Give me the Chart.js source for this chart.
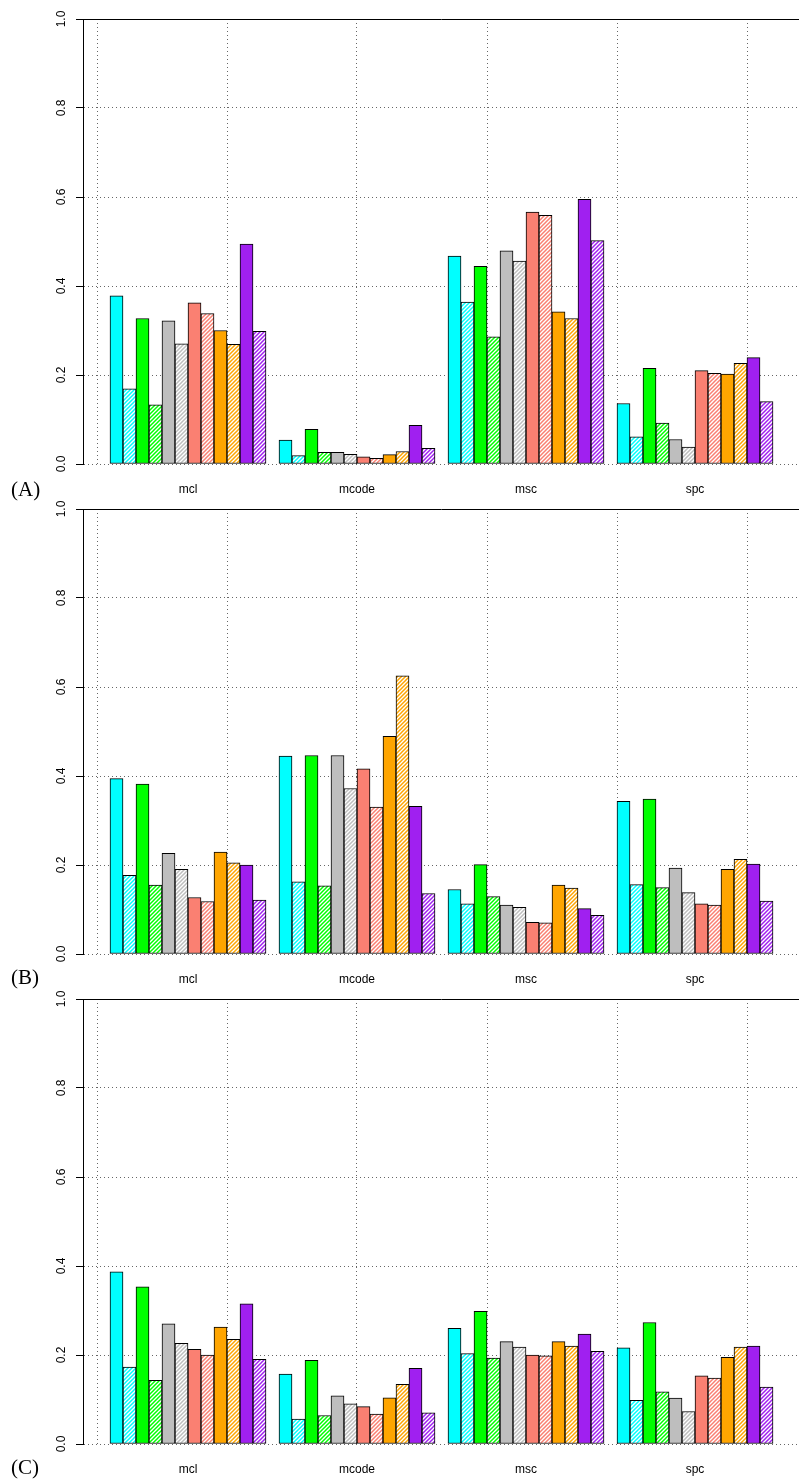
<!DOCTYPE html>
<html lang="en">
<head>
<meta charset="UTF-8">
<title>Grouped bars (A) (B) (C)</title>
<script src="https://cdn.jsdelivr.net/npm/chart.js"></script>
<style>
  body { margin: 0; background: #fff; }
  #page { position: relative; width: 799px; height: 1479px; overflow: hidden; }
  .panel { position: absolute; left: 0; width: 799px; }
  .tag { position: absolute; left: 11px; font-family: "Liberation Serif", "DejaVu Serif", serif; font-size: 21px; line-height: 24px; color: #000; }
</style>
</head>
<body>
<div id="page">
  <div class="panel" style="top:0px;height:510px"><canvas id="chartA" width="799" height="510"></canvas></div>
  <div class="panel" style="top:490px;height:510px"><canvas id="chartB" width="799" height="510"></canvas></div>
  <div class="panel" style="top:980px;height:499px"><canvas id="chartC" width="799" height="499"></canvas></div>
  <div class="tag" style="top:477px">(A)</div>
  <div class="tag" style="top:965px">(B)</div>
  <div class="tag" style="top:1455px">(C)</div>
</div>

<script>
// groups on the x axis
const groups = ['mcl', 'mcode', 'msc', 'spc'];
// one colour per method, each drawn solid then hatched
const colors = ['#00FFFF', '#00FF00', '#BEBEBE', '#FA8072', '#FFA500', '#A020F0'];
const yTicks = [0, 0.2, 0.4, 0.6, 0.8, 1.0];

// panel (A)
const aMcl   = [0.378, 0.169, 0.327, 0.133, 0.322, 0.270, 0.362, 0.338, 0.300, 0.269, 0.494, 0.298];
const aMcode = [0.054, 0.019, 0.078, 0.026, 0.026, 0.022, 0.016, 0.013, 0.021, 0.028, 0.087, 0.035];
const aMsc   = [0.467, 0.364, 0.444, 0.286, 0.479, 0.456, 0.566, 0.559, 0.342, 0.327, 0.595, 0.502];
const aSpc   = [0.136, 0.061, 0.215, 0.092, 0.055, 0.038, 0.210, 0.204, 0.202, 0.226, 0.239, 0.140];

// panel (B)
const bMcl   = [0.394, 0.177, 0.382, 0.155, 0.226, 0.190, 0.127, 0.118, 0.229, 0.205, 0.200, 0.121];
const bMcode = [0.445, 0.162, 0.446, 0.153, 0.446, 0.372, 0.416, 0.330, 0.489, 0.625, 0.332, 0.136];
const bMsc   = [0.145, 0.113, 0.201, 0.129, 0.110, 0.105, 0.071, 0.070, 0.155, 0.148, 0.102, 0.087];
const bSpc   = [0.343, 0.156, 0.348, 0.149, 0.193, 0.138, 0.113, 0.110, 0.190, 0.213, 0.202, 0.119];

// panel (C)
const cMcl   = [0.387, 0.173, 0.353, 0.143, 0.270, 0.226, 0.213, 0.200, 0.263, 0.235, 0.315, 0.190];
const cMcode = [0.157, 0.056, 0.188, 0.064, 0.108, 0.090, 0.084, 0.067, 0.104, 0.134, 0.170, 0.070];
const cMsc   = [0.260, 0.203, 0.298, 0.193, 0.230, 0.218, 0.200, 0.198, 0.230, 0.220, 0.247, 0.208];
const cSpc   = [0.216, 0.098, 0.273, 0.117, 0.103, 0.073, 0.153, 0.148, 0.195, 0.218, 0.220, 0.128];

// diagonal hatch on white
function hatch(color) {
    const c = document.createElement('canvas');
    c.width = 4; c.height = 4;
    const g = c.getContext('2d');
    g.fillStyle = '#fff';
    g.fillRect(0, 0, 4, 4);
    g.strokeStyle = color;
    g.lineWidth = 1.5;
    g.beginPath();
    g.moveTo(-1, 5); g.lineTo(5, -1);
    g.moveTo(-1, 1); g.lineTo(1, -1);
    g.moveTo(3, 5); g.lineTo(5, 3);
    g.stroke();
    return g.createPattern(c, 'repeat');
}

const fills = [];
colors.forEach(col => { fills.push(col); fills.push(hatch(col)); });

// bar layout like R barplot(beside=TRUE): 12 bars per group, one empty slot between groups
const perGroup = 12;
const slot = perGroup + 1;
const xMin = -14 / 13;
const xMax = 54;

function makePanel(id, series, canvasHeight) {
    const points = [];
    const bg = [];
    series.forEach((vals, g) => {
        vals.forEach((v, i) => {
            points.push({ x: 1.5 + slot * g + i, y: v });
            bg.push(fills[i]);
        });
    });
    const groupCenters = groups.map((_, g) => 1 + slot * g + perGroup / 2);

    new Chart(document.getElementById(id).getContext('2d'), {
        type: 'bar',
        data: {
            datasets: [{
                data: points,
                backgroundColor: bg,
                borderColor: '#000',
                borderWidth: 1,
                borderSkipped: false,
                barPercentage: 1.0,
                categoryPercentage: 1.0,
                xAxisID: 'x',
                yAxisID: 'y'
            }]
        },
        options: {
            responsive: false,
            animation: false,
            events: [],
            layout: { padding: { top: 19, left: 0, right: 0, bottom: 0 } },
            plugins: { legend: { display: false }, tooltip: { enabled: false } },
            scales: {
                x: {
                    type: 'linear',
                    position: 'bottom',
                    offset: false,
                    min: xMin,
                    max: xMax,
                    afterBuildTicks: s => { s.ticks = [0, 10, 20, 30, 40, 50].map(v => ({ value: v })); },
                    afterFit: s => { s.height = 0; },
                    ticks: { display: false },
                    grid: { offset: false, color: '#666', drawTicks: false, lineWidth: 1 },
                    border: { display: false, dash: [1, 3] }
                },
                xl: {
                    type: 'linear',
                    position: 'bottom',
                    offset: false,
                    min: xMin,
                    max: xMax,
                    afterBuildTicks: s => { s.ticks = groupCenters.map(v => ({ value: v })); },
                    afterFit: s => { s.height = canvasHeight - 19 - 445; },
                    ticks: {
                        autoSkip: false,
                        maxRotation: 0,
                        padding: 10,
                        color: '#000',
                        font: { family: 'Liberation Sans', size: 12 },
                        callback: (v, i) => groups[i]
                    },
                    grid: { display: false, offset: false },
                    border: { display: false }
                },
                y: {
                    type: 'linear',
                    min: 0,
                    max: 1,
                    afterBuildTicks: s => { s.ticks = yTicks.map(v => ({ value: v })); },
                    afterFit: s => { s.width = 83; },
                    ticks: {
                        minRotation: 90,
                        maxRotation: 90,
                        crossAlign: 'center',
                        padding: 6,
                        color: '#000',
                        font: { family: 'Liberation Sans', size: 12 },
                        callback: v => v.toFixed(1)
                    },
                    grid: {
                        color: c => (c.tick && Math.abs(c.tick.value - 1) < 1e-6) ? '#000' : '#666',
                        tickColor: '#000',
                        tickLength: 7,
                        tickBorderDash: [],
                        lineWidth: 1
                    },
                    border: {
                        display: true,
                        color: '#000',
                        width: 1,
                        dash: c => (c.tick && Math.abs(c.tick.value - 1) < 1e-6) ? [] : [1, 3]
                    }
                }
            }
        }
    });
}

makePanel('chartA', [aMcl, aMcode, aMsc, aSpc], 510);
makePanel('chartB', [bMcl, bMcode, bMsc, bSpc], 510);
makePanel('chartC', [cMcl, cMcode, cMsc, cSpc], 499);
</script>
</body>
</html>
